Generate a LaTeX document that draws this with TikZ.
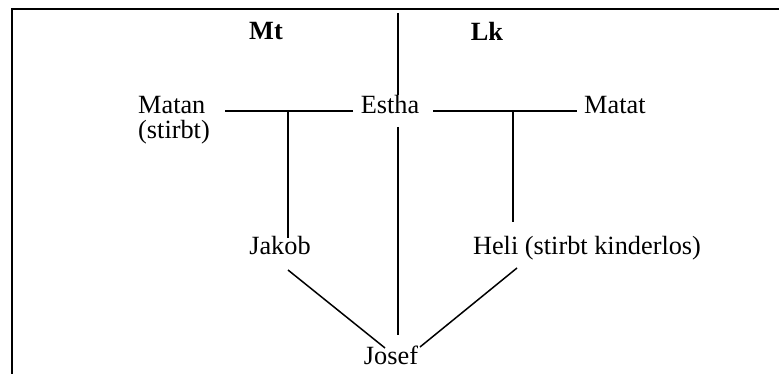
\documentclass[tikz,border=0pt]{standalone}
\usepackage{fontspec}
\setmainfont{Liberation Serif}
\begin{document}
\begin{tikzpicture}[x=1pt,y=1pt,
  lbl/.style={inner sep=0pt, font=\fontsize{26.3}{25}\selectfont},
  head/.style={lbl, font=\fontsize{26.3}{25}\selectfont\bfseries},
  link/.style={line width=1.5pt},
  frame/.style={line width=2.3pt}]
\useasboundingbox (0,0) rectangle (779,374);
% open frame: left and top edges
\draw[frame] (12,0) -- (12,365) -- (779,365);

% headings
\node[head, anchor=base] (mt) at (266,334) {Mt};
\node[head, anchor=base] (lk) at (487,333) {Lk};

% persons (the two-line node is anchored on its last line)
\node[lbl, anchor=base west, align=left] (matan) at (138,235) {Matan\\(stirbt)};
\node[lbl, anchor=base] (estha) at (390,260) {Estha};
\node[lbl, anchor=base west] (matat) at (584,260) {Matat};
\node[lbl, anchor=base] (jakob) at (280,119) {Jakob};
\node[lbl, anchor=base] (heli) at (587,119) {Heli (stirbt kinderlos)};
\node[lbl, anchor=base] (josef) at (391,9) {Josef};

% free ends of the lines
\coordinate (top) at (398,361);
\coordinate (leftfork) at (288,263);
\coordinate (rightfork) at (513,263);

% marriages
\draw[link] ([shift={(-37,3)}]estha.base) -- ([shift={(87,28)}]matan.base west);
\draw[link] ([shift={(43,3)}]estha.base) -- ([shift={(-7,3)}]matat.base west);

% descent lines
\draw[link] (top) -- ([shift={(8,19)}]estha.base);
\draw[link] ([shift={(8,-13)}]estha.base) -- ([shift={(7,30)}]josef.base);
\draw[link] (leftfork) -- ([shift={(8,17)}]jakob.base);
\draw[link] (rightfork) -- ([shift={(-74,33)}]heli.base);
\draw[link] ([shift={(8,-15)}]jakob.base) -- ([shift={(-6,17)}]josef.base);
\draw[link] ([shift={(-70,-13)}]heli.base) -- ([shift={(29,18)}]josef.base);
\end{tikzpicture}
\end{document}
